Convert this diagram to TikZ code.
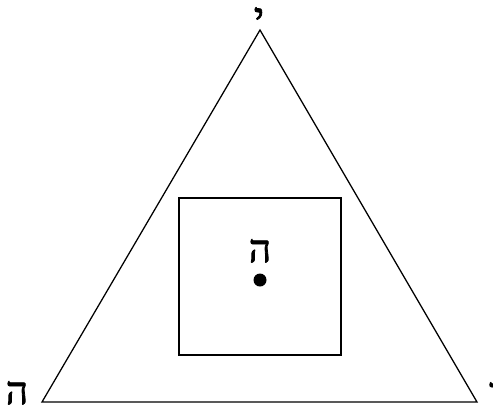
\documentclass[tikz,border=0pt]{standalone}
\usepackage{fontspec}
\TeXXeTstate=1
\newfontfamily\hebfont[Script=Hebrew,FakeBold=2]{Liberation Serif}
\begin{document}
\begin{tikzpicture}[x=0.75pt,y=-0.75pt,
  heb/.style={inner sep=0pt,font=\hebfont\fontsize{29}{29}\selectfont},
  shape line/.style={draw=black,line width=0.95pt,line join=miter}]
\useasboundingbox (0,0) rectangle (493,405);
\coordinate (apex) at (260,30);
\coordinate (bl) at (42,402);
\coordinate (br) at (477,402);
\draw[shape line] (apex) -- (bl) -- (br) -- cycle;
\node[draw=black,line width=0.95pt,minimum width=162*0.75pt,minimum height=157*0.75pt,inner sep=0pt] (sq) at (260,276.5) {};
\node[heb,anchor=north] (yod) at (259,7) {\beginR י\endR};
\node[heb,anchor=north] (heL) at (17,381) {\beginR ה\endR};
\node[heb,anchor=north west] (vav) at (489,382) {\beginR ו\endR};
\node[heb,anchor=north] (heC) at (260,239) {\beginR ה\endR};
\fill (260,280) circle[radius=6.5*0.75pt] coordinate (dot);
\end{tikzpicture}
\end{document}
